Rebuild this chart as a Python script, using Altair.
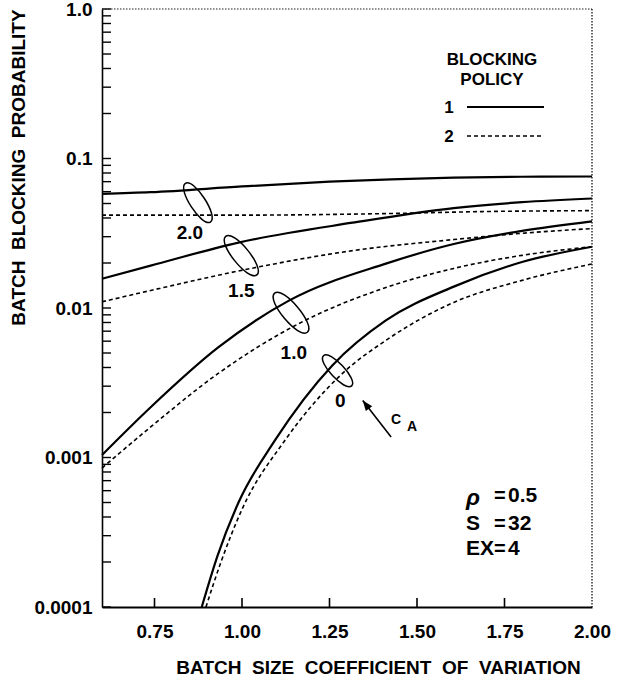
import altair as alt
import pandas as pd

W, H = 490, 598
FONT = "Liberation Sans"

# ---- curve data (cA value, blocking policy) ----
x_p1_20 = [0.6, 0.739, 1.0, 1.25, 1.605, 1.8, 2.0]
y_p1_20 = [0.058, 0.0595, 0.065, 0.070, 0.0745, 0.0755, 0.0758]
x_p2_20 = [0.6, 1.0, 1.41, 1.7, 2.0]
y_p2_20 = [0.0418, 0.0418, 0.0428, 0.0442, 0.0448]

x_p1_15 = [0.6, 0.739, 0.99, 1.316, 1.605, 1.8, 2.0]
y_p1_15 = [0.0157, 0.0192, 0.0274, 0.0372, 0.0466, 0.051, 0.054]
x_p2_15 = [0.6, 0.739, 1.036, 1.316, 1.605, 1.8, 2.0]
y_p2_15 = [0.011, 0.0131, 0.0186, 0.0242, 0.0287, 0.0316, 0.034]

x_p1_10 = [0.6, 0.739, 0.932, 1.134, 1.411, 1.605, 1.8, 2.0]
y_p1_10 = [0.00104, 0.00217, 0.00545, 0.0112, 0.0198, 0.0268, 0.0328, 0.038]
x_p2_10 = [0.6, 0.739, 0.932, 1.163, 1.411, 1.605, 1.8, 2.0]
y_p2_10 = [0.00085, 0.00160, 0.00365, 0.00788, 0.0137, 0.0184, 0.0225, 0.0257]

x_p1_00 = [0.885, 0.93, 0.99, 1.094, 1.258, 1.411, 1.605, 1.8, 2.0]
y_p1_00 = [0.0001, 0.00022, 0.0005, 0.0013, 0.00413, 0.00826, 0.0139, 0.0203, 0.0257]
x_p2_00 = [0.897, 0.94, 1.0, 1.1225, 1.287, 1.411, 1.605, 1.8, 2.0]
y_p2_00 = [0.0001, 0.0002, 0.00045, 0.0013, 0.00365, 0.00607, 0.0109, 0.0153, 0.0197]

series = [
    ("2.0", "1", x_p1_20, y_p1_20), ("2.0", "2", x_p2_20, y_p2_20),
    ("1.5", "1", x_p1_15, y_p1_15), ("1.5", "2", x_p2_15, y_p2_15),
    ("1.0", "1", x_p1_10, y_p1_10), ("1.0", "2", x_p2_10, y_p2_10),
    ("0", "1", x_p1_00, y_p1_00), ("0", "2", x_p2_00, y_p2_00),
]
rows = []
for ca, pol, xs_, ys_ in series:
    for xv, yv in zip(xs_, ys_):
        rows.append({"x": xv, "y": yv, "ca": ca, "policy": pol, "key": ca + "_" + pol})
df = pd.DataFrame(rows)

# ---- tick values ----
x_ticks = [0.75, 1.0, 1.25, 1.5, 1.75, 2.0]
y_ticks = [0.0001, 0.001, 0.01, 0.1, 1.0]
y_minor = [m * d for d in [0.0001, 0.001, 0.01, 0.1] for m in range(1, 10)] + [1.0]
x_inner_ticks = [0.75, 1.0, 1.25, 1.5, 1.75]

# ---- annotations ----
ring_x = [0.874, 0.998, 1.140, 1.273]
ring_y = [0.0506, 0.0224, 0.0093, 0.0038]
ring_angle = [57, 51, 50, 47]
ring_size = [2116, 2450, 2600, 1700]

lab_x = [0.851, 0.998, 1.148, 1.281]
lab_y = [0.0319, 0.0129, 0.0050, 0.00238]
lab_text = ["2.0", "1.5", "1.0", "0"]

arrow_x = [1.426, 1.345]
arrow_y = [0.00137, 0.00241]

xs = alt.Scale(domain=[0.6, 2.0], nice=False, zero=False)
ys = alt.Scale(type="log", domain=[0.0001, 1.0], nice=False)

one = pd.DataFrame({"d": [0]})

x_axis = alt.Axis(values=x_ticks, format=".2f", ticks=False, grid=False, labelFlush=False,
                  domainColor="black", domainWidth=2, labelFont=FONT, labelFontSize=19,
                  labelFontWeight="bold", labelColor="black", labelPadding=15,
                  title="BATCH\u00a0\u00a0SIZE\u00a0\u00a0COEFFICIENT\u00a0\u00a0OF\u00a0\u00a0VARIATION",
                  titleFont=FONT, titleFontSize=19, titleFontWeight="bold", titleColor="black",
                  titleX=276, titleY=60, titleAlign="center", titleBaseline="middle")
y_axis = alt.Axis(values=y_ticks, format="~g", labelExpr="datum.value >= 0.99 ? '1.0' : datum.label",
                  ticks=False, grid=False, domainColor="black", domainWidth=1.6, labelFlush=False,
                  labelFont=FONT, labelFontSize=19, labelFontWeight="bold", labelColor="black",
                  labelPadding=10,
                  title="BATCH\u00a0\u00a0BLOCKING\u00a0\u00a0PROBABILITY",
                  titleFont=FONT, titleFontSize=19, titleFontWeight="bold", titleColor="black",
                  titleX=-84, titleY=158, titleAngle=270, titleAlign="center", titleBaseline="middle")

solid = alt.Chart(df[df.policy == "1"]).mark_line(color="black", strokeWidth=2.2, interpolate="monotone").encode(
    x=alt.X("x:Q", scale=xs, axis=x_axis),
    y=alt.Y("y:Q", scale=ys, axis=y_axis),
    detail="key:N",
)
dashed = alt.Chart(df[df.policy == "2"]).mark_line(color="black", strokeWidth=1.6, strokeDash=[4, 3],
                                                   interpolate="monotone").encode(
    x=alt.X("x:Q", scale=xs), y=alt.Y("y:Q", scale=ys), detail="key:N")

yt = alt.Chart(pd.DataFrame({"v": y_minor})).mark_rule(color="black", strokeWidth=1.4).encode(
    y=alt.Y("v:Q", scale=ys), x=alt.value(0), x2=alt.value(9))
xt = alt.Chart(pd.DataFrame({"v": x_inner_ticks})).mark_rule(color="black", strokeWidth=1.6).encode(
    x=alt.X("v:Q", scale=xs), y=alt.value(H), y2=alt.value(H - 9))

top_b = alt.Chart(one).mark_rule(color="#222", strokeWidth=1.2, strokeDash=[1.5, 1.5]).encode(
    x=alt.value(0), x2=alt.value(W), y=alt.value(0))
right_b = alt.Chart(one).mark_rule(color="#222", strokeWidth=1.4, strokeDash=[1.5, 1.5]).encode(
    x=alt.value(W), y=alt.value(0), y2=alt.value(H))

ELLIPSE = "M -1 0 C -1 -0.45 1 -0.45 1 0 C 1 0.45 -1 0.45 -1 0 Z"
rings = alt.Chart(pd.DataFrame({"x": ring_x, "y": ring_y, "a": ring_angle, "s": ring_size})).mark_point(
    shape=ELLIPSE, filled=False, color="black", strokeWidth=1.5, opacity=1).encode(
    x=alt.X("x:Q", scale=xs), y=alt.Y("y:Q", scale=ys),
    angle=alt.Angle("a:Q", scale=None), size=alt.Size("s:Q", scale=None, legend=None))

labels = alt.Chart(pd.DataFrame({"x": lab_x, "y": lab_y, "t": lab_text})).mark_text(
    font=FONT, fontSize=19, fontWeight="bold", color="black", align="center", baseline="middle").encode(
    x=alt.X("x:Q", scale=xs), y=alt.Y("y:Q", scale=ys), text="t:N")

arrow_line = alt.Chart(pd.DataFrame({"x": arrow_x, "y": arrow_y})).mark_line(color="black", strokeWidth=1.6).encode(
    x=alt.X("x:Q", scale=xs), y=alt.Y("y:Q", scale=ys))
ARROW = "M 0 0 L 1 2.6 L -1 2.6 Z"
arrow_head = alt.Chart(pd.DataFrame({"x": [arrow_x[1]], "y": [arrow_y[1]]})).mark_point(
    shape=ARROW, filled=True, color="black", size=64, angle=323, opacity=1).encode(
    x=alt.X("x:Q", scale=xs), y=alt.Y("y:Q", scale=ys))

ca_c = alt.Chart(pd.DataFrame({"x": [1.440], "y": [0.00177], "t": ["C"]})).mark_text(
    font=FONT, fontSize=14, fontWeight="bold", color="black").encode(
    x=alt.X("x:Q", scale=xs), y=alt.Y("y:Q", scale=ys), text="t:N")
ca_a = alt.Chart(pd.DataFrame({"x": [1.486], "y": [0.00159], "t": ["A"]})).mark_text(
    font=FONT, fontSize=14, fontWeight="bold", color="black").encode(
    x=alt.X("x:Q", scale=xs), y=alt.Y("y:Q", scale=ys), text="t:N")


def ptext(txt, px, py, size=18, align="left", style="normal"):
    return alt.Chart(one).mark_text(text=txt, font=FONT, fontSize=size, fontWeight="bold",
                                    fontStyle=style, color="black", align=align,
                                    baseline="middle").encode(x=alt.value(px), y=alt.value(py))


legend = [
    ptext("BLOCKING", 390, 51, 17, "center"),
    ptext("POLICY", 390, 71, 17, "center"),
    ptext("1", 347, 99, 17, "center"),
    ptext("2", 347, 128, 17, "center"),
    alt.Chart(one).mark_rule(color="black", strokeWidth=2).encode(
        x=alt.value(365), x2=alt.value(442), y=alt.value(98)),
    alt.Chart(one).mark_rule(color="black", strokeWidth=1.6, strokeDash=[4, 3]).encode(
        x=alt.value(365), x2=alt.value(442), y=alt.value(127)),
]
params = [
    ptext("\u03c1", 364, 489, 23, "left", "italic"),
    ptext("=", 392, 487, 20),
    ptext("0.5", 406, 487, 21),
    ptext("S", 364, 515, 21),
    ptext("=", 392, 515, 20),
    ptext("32", 406, 515, 21),
    ptext("EX", 364, 540, 21),
    ptext("=", 392, 540, 20),
    ptext("4", 406, 540, 21),
]

chart = alt.layer(solid, dashed, yt, xt, top_b, right_b, rings, labels, arrow_line, arrow_head,
                  ca_c, ca_a, *legend, *params).properties(
    width=W, height=H,
    padding={"left": 102, "top": 9, "right": 620 - 102 - W, "bottom": 682 - 9 - H},
    autosize=alt.AutoSizeParams(type="none"),
    background="white",
).configure_view(stroke=None)

chart.save("out.html", embed_options={"renderer": "svg", "actions": False})
